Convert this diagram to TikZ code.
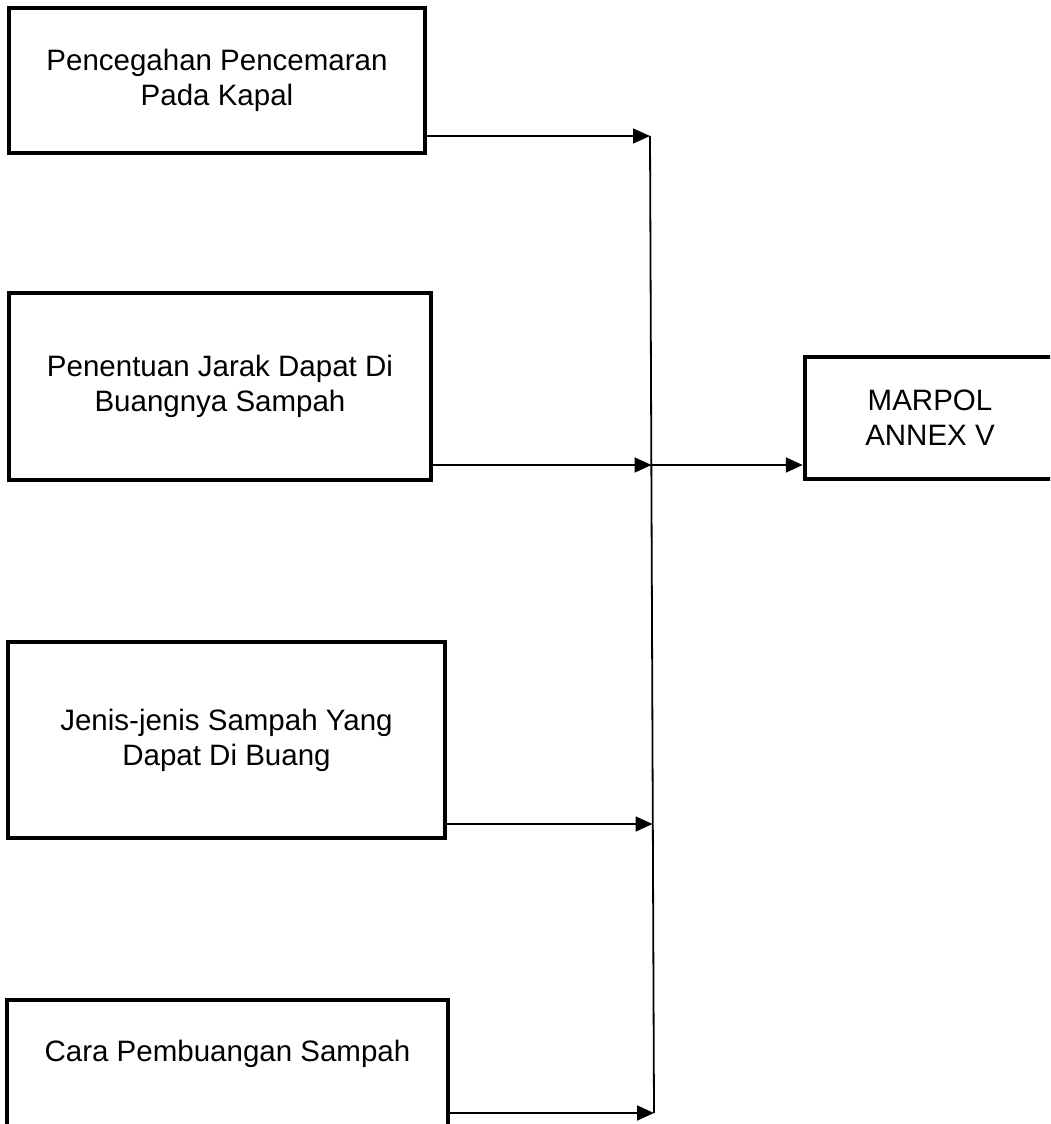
\documentclass[tikz,border=0pt]{standalone}
\usepackage{fontspec}
\setmainfont{Liberation Sans}
\usetikzlibrary{arrows.meta}

\begin{document}
\begin{tikzpicture}[x=1pt,y=-1pt,
  kotak/.style={draw,line width=4.5pt,align=center,inner sep=0pt,
    font=\fontsize{29.5}{35}\selectfont},
  panah/.style={line width=1.8pt,-{Triangle[length=17pt,width=15pt]}}]
\clip (0,0) rectangle (1050,1124);
\node[kotak,minimum width=416pt,minimum height=145pt] (cegah) at (217,80.5) {Pencegahan Pencemaran\\Pada Kapal};
\node[kotak,minimum width=422pt,minimum height=187pt] (jarak) at (220,386.5) {Penentuan Jarak Dapat Di\\Buangnya Sampah};
\node[kotak,minimum width=437pt,minimum height=196pt] (jenis) at (226.5,740) {Jenis-jenis Sampah Yang\\Dapat Di Buang};
\node[kotak,minimum width=441pt,text height=61pt,text depth=140pt,anchor=base] (cara) at (227.5,1061) {Cara Pembuangan Sampah};
\node[kotak,minimum width=250pt,minimum height=122pt] (marpol) at (930,418) {MARPOL\\ANNEX V};
% garis kumpul
\coordinate (atas) at (650,136);
\coordinate (tengah) at (651.5,465);
\coordinate (j3) at (652.5,824);
\coordinate (bawah) at (654,1113);
\draw[line width=1.8pt] (atas)--(bawah);
\draw[panah] (cegah.east |- atas)--(atas);
\draw[panah] (jarak.east |- tengah)--(tengah);
\draw[panah] (jenis.east |- j3)--(j3);
\draw[panah] (cara.east |- bawah)--(bawah);
\draw[panah] (tengah)--(marpol.west |- tengah);
\end{tikzpicture}
\end{document}
